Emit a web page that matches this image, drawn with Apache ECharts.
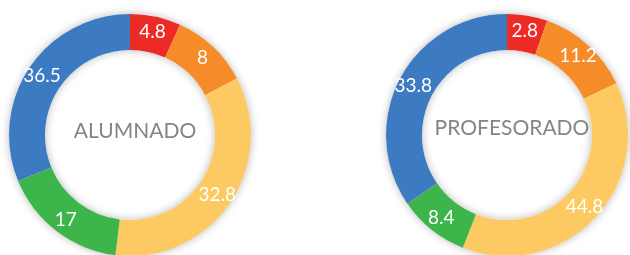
<!DOCTYPE html>
<html>
<head>
<meta charset="utf-8">
<script src="https://cdn.jsdelivr.net/npm/echarts@6/dist/echarts.min.js"></script>
<style>
  html, body { margin: 0; padding: 0; background: #fff; }
  #chart { width: 630px; height: 255px; }
</style>
</head>
<body>
<div id="chart"></div>
<script>
// clockwise from 12 o'clock
var categories = ['rojo', 'naranja', 'amarillo', 'verde', 'azul'];
var colors = ['#ec2a26', '#f58b29', '#fdc962', '#3db54a', '#3c7bc1'];
var titles = ['ALUMNADO', 'PROFESORADO'];
// printed percentages
var alumnado = [4.8, 8, 32.8, 17, 36.5];
var profesorado = [2.8, 11.2, 44.8, 8.4, 33.8];
// arc sizes as drawn in the original (degrees, measured)
var alumnadoArcs = [24.4, 37.7, 124.8, 60.7, 112.4];
var profesoradoArcs = [19.4, 45.3, 136.7, 34, 124.6];

function toData(arcs, values) {
  return arcs.map(function (a, i) {
    return { name: categories[i], value: a, label: values[i], itemStyle: { color: colors[i] } };
  });
}

function shadowRing(center) {
  return {
    type: 'pie',
    silent: true,
    z: 1,
    center: center,
    radius: [85, 121],
    startAngle: 90,
    label: { show: false },
    labelLine: { show: false },
    itemStyle: { color: '#fff', shadowBlur: 8, shadowColor: 'rgba(0,0,0,0.28)' },
    data: [1]
  };
}

function donut(center, arcs, values) {
  return {
    type: 'pie',
    z: 2,
    center: center,
    radius: [85, 121],
    startAngle: 90,
    clockwise: true,
    avoidLabelOverlap: false,
    label: {
      show: true,
      position: 'inside',
      color: '#fff',
      fontFamily: 'Lato',
      fontSize: 19,
      formatter: function (p) { return p.data.label; }
    },
    labelLine: { show: false },
    emphasis: { disabled: true },
    itemStyle: { borderWidth: 0 },
    data: toData(arcs, values)
  };
}

var myChart = echarts.init(document.getElementById('chart'));
myChart.setOption({
  animation: false,
  title: [
    { text: titles[0], left: 130, top: 116, textAlign: 'center',
      textStyle: { color: '#858585', fontFamily: 'Lato', fontWeight: 'normal', fontSize: 21 } },
    { text: titles[1], left: 507, top: 113, textAlign: 'center',
      textStyle: { color: '#858585', fontFamily: 'Lato', fontWeight: 'normal', fontSize: 21 } }
  ],
  series: [
    shadowRing([130, 135]),
    donut([130, 135], alumnadoArcs, alumnado),
    shadowRing([507, 135]),
    donut([507, 135], profesoradoArcs, profesorado)
  ]
});
</script>
</body>
</html>
